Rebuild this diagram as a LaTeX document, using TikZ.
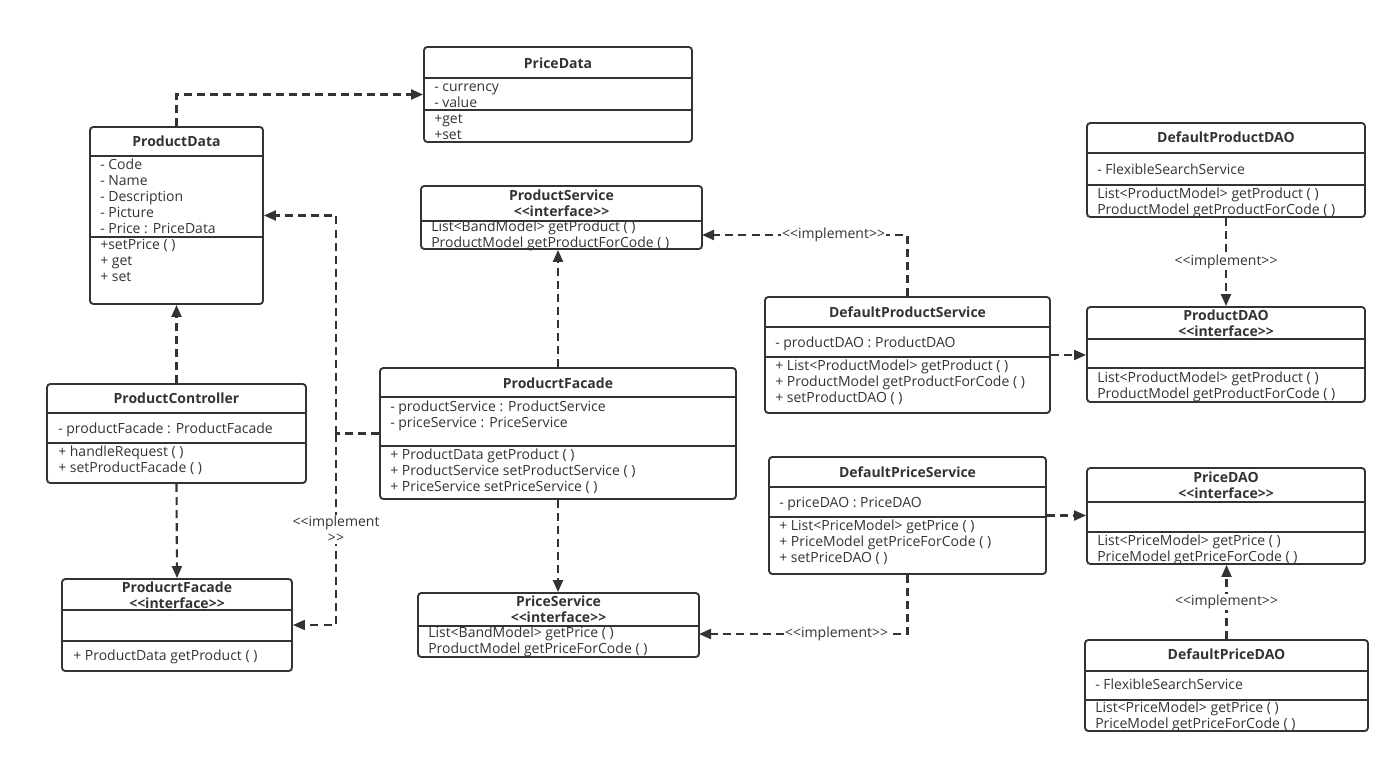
\documentclass[tikz,border=0pt]{standalone}
\usepackage{fontspec}
\setmainfont{Open Sans}
\usetikzlibrary{arrows.meta, fit}

\definecolor{umlgray}{HTML}{333333}

\tikzset{
  cls/.style={draw=umlgray, line width=1.4pt, rounded corners=2.5pt, inner sep=0pt},
  sep/.style={draw=umlgray, line width=1.2pt},
  ttl/.style={inner sep=0pt, text=umlgray, align=center, font=\fontsize{10.5}{12}\selectfont\bfseries},
  txt/.style={anchor=west, inner sep=0pt, text height=9pt, text depth=1pt, text=umlgray, font=\fontsize{10.5}{12}\selectfont},
  dline/.style={draw=umlgray, line width=1.6pt, dash pattern=on 6pt off 3.8pt},
  dep/.style={dline, -{Triangle[length=9pt,width=7.5pt]}},
  impl/.style={fill=white, inner sep=1pt, text=umlgray, align=center, font=\fontsize{10.5}{12}\selectfont}
}

\newcommand{\classbox}[5]{%
  \coordinate (#1-nw) at (#2,#3);
  \coordinate (#1-se) at (#4,#5);
  \node[cls, fit=(#1-nw)(#1-se)] (#1) {};}
\newcommand{\classsep}[2]{\draw[sep] (#1.west |- 0,#2) -- (#1.east |- 0,#2);}
\newcommand{\stereo}{<{}<interface>{}>}
\newcommand{\implabel}{<{}<implement>{}>}

\begin{document}
\begin{tikzpicture}[x=0.75pt, y=-0.75pt]
  \useasboundingbox (0,0) rectangle (1399,763);

  % ProductData
  \classbox{pdata}{90}{127}{263}{304}
  \classsep{pdata}{156} \classsep{pdata}{237}
  \node[ttl] (pdata-t) at (176.5,141) {ProductData};
  \foreach \s [count=\i] in {- Code, - Name, - Description, - Picture, - Price : PriceData}
    \node[txt] (pdata-a\i) at (100,148+16*\i) {\s};
  \foreach \s [count=\i] in {+setPrice ( ), + get, + set}
    \node[txt] (pdata-m\i) at (100,228+16*\i) {\s};

  % PriceData
  \classbox{pricedata}{424}{47}{692}{142}
  \classsep{pricedata}{78} \classsep{pricedata}{110}
  \node[ttl] (pricedata-t) at (558,63) {PriceData};
  \foreach \s [count=\i] in {- currency, - value}
    \node[txt] (pricedata-a\i) at (434,70+16*\i) {\s};
  \foreach \s [count=\i] in {+get, +set}
    \node[txt] (pricedata-m\i) at (434,102+16*\i) {\s};

  % ProductService
  \classbox{psvc}{421}{186}{702}{249}
  \classsep{psvc}{221}
  \node[ttl] (psvc-t) at (561.5,203) {ProductService\\\stereo};
  \foreach \s [count=\i] in {List<BandModel> getProduct ( ), ProductModel getProductForCode ( )}
    \node[txt] (psvc-m\i) at (431,210+16*\i) {\s};

  % ProductController
  \classbox{pctrl}{47}{384}{306}{483}
  \classsep{pctrl}{413} \classsep{pctrl}{443}
  \node[ttl] (pctrl-t) at (176.5,398) {ProductController};
  \node[txt] (pctrl-a1) at (58,428) {- productFacade : ProductFacade};
  \foreach \s [count=\i] in {+ handleRequest ( ), + setProductFacade ( )}
    \node[txt] (pctrl-m\i) at (58,435+16*\i) {\s};

  % ProducrtFacade interface
  \classbox{pfacI}{62}{579}{292}{671}
  \classsep{pfacI}{610} \classsep{pfacI}{641}
  \node[ttl] (pfacI-t) at (177,595) {ProducrtFacade\\\stereo};
  \node[txt] (pfacI-m1) at (73,655) {+ ProductData getProduct ( )};

  % ProducrtFacade
  \classbox{pfac}{380}{368}{736}{499}
  \classsep{pfac}{397} \classsep{pfac}{446}
  \node[ttl] (pfac-t) at (558,383) {ProducrtFacade};
  \foreach \s [count=\i] in {- productService : ProductService, - priceService : PriceService}
    \node[txt] (pfac-a\i) at (390,390+16*\i) {\s};
  \foreach \s [count=\i] in {+ ProductData getProduct ( ), + ProductService setProductService ( ), + PriceService setPriceService ( )}
    \node[txt] (pfac-m\i) at (390,438+16*\i) {\s};

  % PriceService
  \classbox{prsvc}{418}{593}{699}{657}
  \classsep{prsvc}{626}
  \node[ttl] (prsvc-t) at (558.5,609) {PriceService\\\stereo};
  \foreach \s [count=\i] in {List<BandModel> getPrice ( ), ProductModel getPriceForCode ( )}
    \node[txt] (prsvc-m\i) at (428,616+16*\i) {\s};

  % DefaultProductService
  \classbox{dpsvc}{765}{297}{1050}{413}
  \classsep{dpsvc}{327} \classsep{dpsvc}{357}
  \node[ttl] (dpsvc-t) at (907.5,312) {DefaultProductService};
  \node[txt] (dpsvc-a1) at (775,342) {- productDAO : ProductDAO};
  \foreach \s [count=\i] in {+ List<ProductModel> getProduct ( ), + ProductModel getProductForCode ( ), + setProductDAO ( )}
    \node[txt] (dpsvc-m\i) at (775,349+16*\i) {\s};

  % DefaultProductDAO
  \classbox{dpdao}{1087}{123}{1365}{217}
  \classsep{dpdao}{153} \classsep{dpdao}{185}
  \node[ttl] (dpdao-t) at (1226,137) {DefaultProductDAO};
  \node[txt] (dpdao-a1) at (1097,169) {- FlexibleSearchService};
  \foreach \s [count=\i] in {List<ProductModel> getProduct ( ), ProductModel getProductForCode ( )}
    \node[txt] (dpdao-m\i) at (1097,177+16*\i) {\s};

  % ProductDAO
  \classbox{pdao}{1087}{307}{1365}{402}
  \classsep{pdao}{339} \classsep{pdao}{368}
  \node[ttl] (pdao-t) at (1226,323) {ProductDAO\\\stereo};
  \foreach \s [count=\i] in {List<ProductModel> getProduct ( ), ProductModel getProductForCode ( )}
    \node[txt] (pdao-m\i) at (1097,361+16*\i) {\s};

  % DefaultPriceService
  \classbox{dprsvc}{769}{457}{1046}{574}
  \classsep{dprsvc}{487} \classsep{dprsvc}{517}
  \node[ttl] (dprsvc-t) at (907.5,472) {DefaultPriceService};
  \node[txt] (dprsvc-a1) at (779,502) {- priceDAO : PriceDAO};
  \foreach \s [count=\i] in {+ List<PriceModel> getPrice ( ), + PriceModel getPriceForCode ( ), + setPriceDAO ( )}
    \node[txt] (dprsvc-m\i) at (779,509+16*\i) {\s};

  % PriceDAO
  \classbox{prdao}{1087}{468}{1365}{564}
  \classsep{prdao}{502} \classsep{prdao}{532}
  \node[ttl] (prdao-t) at (1226,485) {PriceDAO\\\stereo};
  \foreach \s [count=\i] in {List<PriceModel> getPrice ( ), PriceModel getPriceForCode ( )}
    \node[txt] (prdao-m\i) at (1097,524+16*\i) {\s};

  % DefaultPriceDAO
  \classbox{dprdao}{1085}{640}{1368}{731}
  \classsep{dprdao}{671} \classsep{dprdao}{700}
  \node[ttl] (dprdao-t) at (1226.5,654) {DefaultPriceDAO};
  \node[txt] (dprdao-a1) at (1095,684) {- FlexibleSearchService};
  \foreach \s [count=\i] in {List<PriceModel> getPrice ( ), PriceModel getPriceForCode ( )}
    \node[txt] (dprdao-m\i) at (1095,691+16*\i) {\s};

  % connectors
  \draw[dep] (pdata.north) |- (pricedata.west);
  \draw[dep] (pctrl.north) -- (pdata.south);
  \draw[dep] (pctrl.south) -- (pfacI.north);
  \draw[dep] (pfac.north) -- (pfac.north |- psvc.south);
  \draw[dep] (pfac.south) -- (pfac.south |- prsvc.north);
  \coordinate (fjoin) at (336,433.5);
  \draw[dline] (pfac.west) -- (fjoin);
  \draw[dep] (fjoin) |- (pdata.east);
  \draw[dep] (fjoin) |- (pfacI.east) node[impl, pos=0.25] {<{}<implement\\>{}>};
  \coordinate (psvc-in) at (702,235);
  \draw[dep] (dpsvc.north) |- (psvc-in) node[impl, pos=0.68] {\implabel};
  \draw[dep] (dpsvc.east) -- (dpsvc.east -| pdao.west);
  \draw[dep] (dpdao.south) -- (pdao.north) node[impl, midway] {\implabel};
  \draw[dep] (dprsvc.east) -- (dprsvc.east -| prdao.west);
  \coordinate (prsvc-in) at (699,634);
  \draw[dep] (dprsvc.south) |- (prsvc-in) node[impl, pos=0.67] {\implabel};
  \draw[dep] (dprdao.north) -- (dprdao.north |- prdao.south) node[impl, midway] {\implabel};
\end{tikzpicture}
\end{document}
